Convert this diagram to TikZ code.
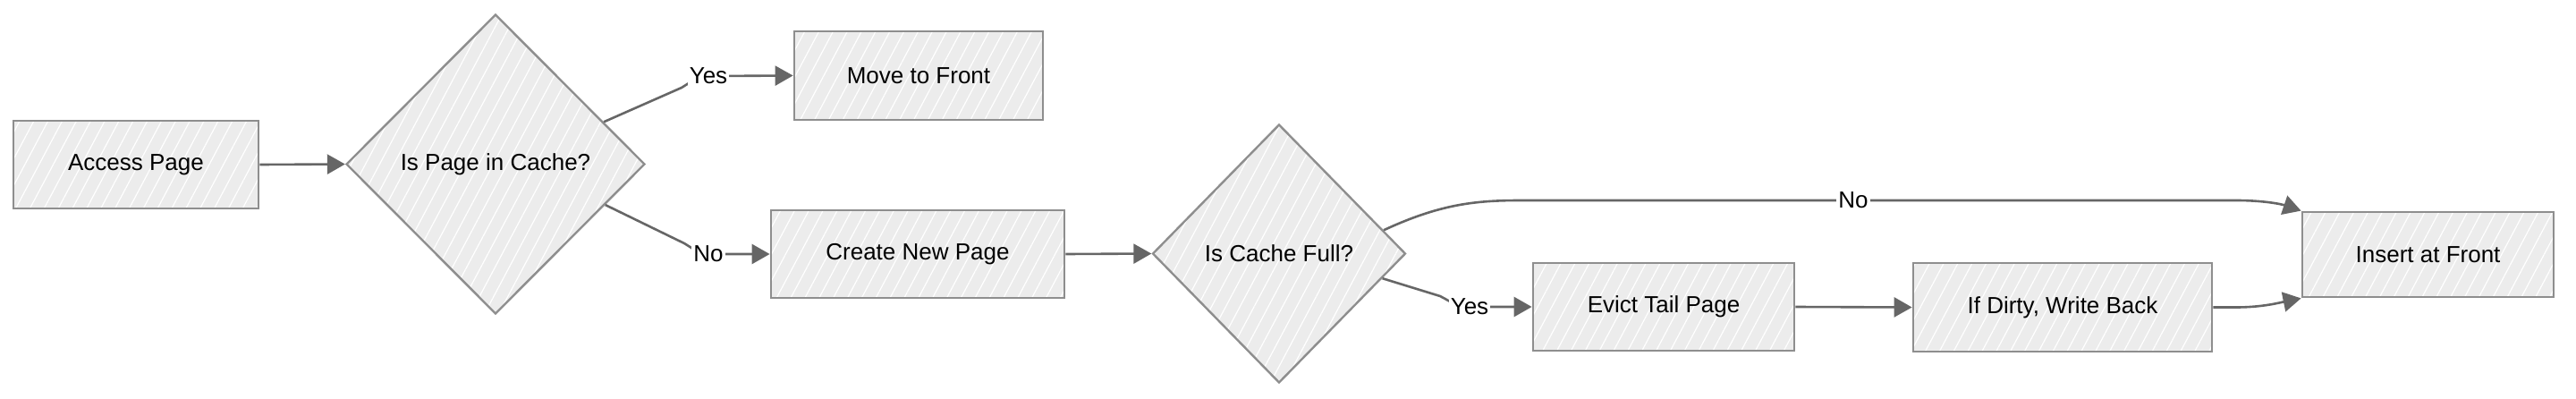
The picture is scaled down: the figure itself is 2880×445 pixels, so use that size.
\documentclass[tikz,border=0pt]{standalone}
\usepackage{fontspec}
\setmainfont{Liberation Sans}
\usetikzlibrary{shapes.geometric,arrows.meta,patterns.meta,calc}
\definecolor{boxfill}{HTML}{ECECEC}
\definecolor{boxline}{HTML}{8E8E8E}
\definecolor{edgecol}{HTML}{666666}
\begin{document}
\begin{tikzpicture}[x=0.5pt,y=-0.5pt,
  txt/.style={font=\fontsize{13}{15}\selectfont, text=black},
  hatch/.style={preaction={fill=boxfill},
    preaction={pattern={Lines[angle=62,distance=7pt,line width=0.6pt]},pattern color=white}},
  procbox/.style={hatch, txt, draw=boxline, line width=1.4pt, rectangle, inner sep=0pt},
  decbox/.style={hatch, txt, draw=boxline, line width=1.2pt, diamond, aspect=1, inner sep=0pt},
  edge/.style={draw=edgecol, line width=1.3pt, -{Triangle[length=10pt,width=11pt]}},
  lbl/.style={txt, fill=white, inner sep=1pt}
]
\useasboundingbox (0,0) rectangle (2880,445);

\node[procbox, minimum width=137pt, minimum height=49pt] (ap) at (152,184) {Access Page};
\node[decbox, minimum width=167pt, minimum height=167.5pt] (d1) at (554,183.5) {Is Page in Cache?};
\node[procbox, minimum width=139pt, minimum height=49.5pt] (mf) at (1027,84.5) {Move to Front};
\node[procbox, minimum width=164pt, minimum height=49pt] (cn) at (1026,284) {Create New Page};
\node[decbox, minimum width=141.5pt, minimum height=144.5pt] (d2) at (1430,283.5) {Is Cache Full?};
\node[procbox, minimum width=146pt, minimum height=49pt] (ev) at (1860,343) {Evict Tail Page};
\node[procbox, minimum width=167pt, minimum height=49.5pt] (wb) at (2306,343.5) {If Dirty, Write Back};
\node[procbox, minimum width=140.5pt, minimum height=47.5pt] (ins) at (2714.5,284.5) {Insert at Front};

\coordinate (d1a) at ($(d1.north)!0.72!(d1.east)$);
\coordinate (d1b) at ($(d1.east)!0.27!(d1.south)$);
\coordinate (d2a) at ($(d2.north)!0.82!(d2.east)$);
\coordinate (d2b) at ($(d2.east)!0.19!(d2.south)$);

\draw[edge] (ap.east) -- (d1.west);
\draw[edge] (d1a) -- (762,98) .. controls (775,90) and (780,85) .. (795,85) -- (mf.west);
\draw[edge] (d1b) -- (765,272) .. controls (778,280) and (782,284) .. (795,284) -- (cn.west);
\draw[edge] (cn.east) -- (d2.west);
\draw[edge] (d2a) .. controls (1610,228) and (1650,224) .. (1700,224) -- (2500,224)
  .. controls (2530,224) and (2550,228) .. (ins.north west);
\draw[edge] (d2b) -- (1610,331) .. controls (1622,337) and (1628,343) .. (1645,343) -- (ev.west);
\draw[edge] (ev.east) -- (wb.west);
\draw[edge] (wb.east) -- (2500,343.5) .. controls (2530,343.5) and (2550,338) .. (ins.south west);

\node[lbl] (lyes1) at (792,85) {Yes};
\node[lbl] (lno1) at (792,284) {No};
\node[lbl] (lno2) at (2072,224) {No};
\node[lbl] (lyes2) at (1643,343) {Yes};
\end{tikzpicture}
\end{document}
